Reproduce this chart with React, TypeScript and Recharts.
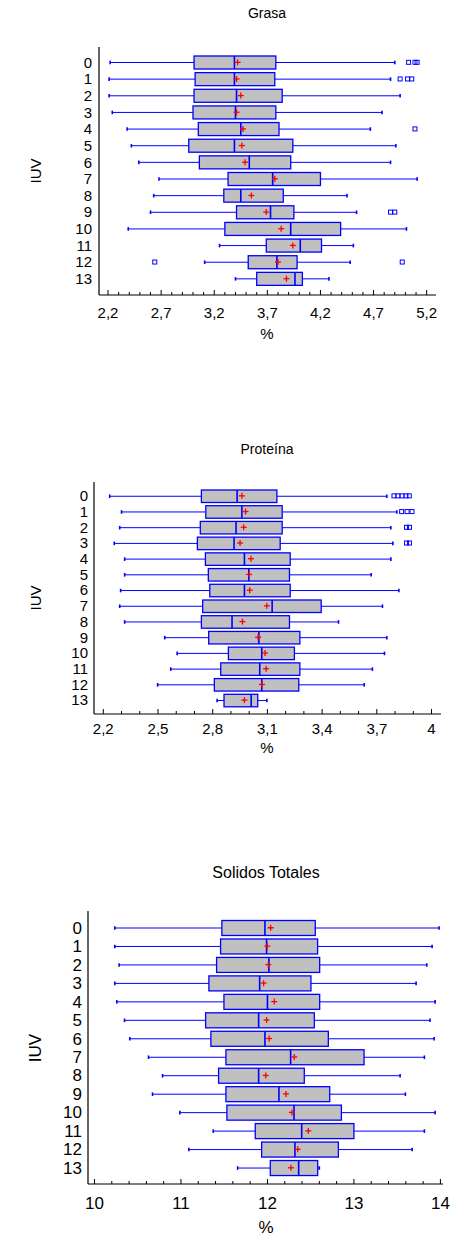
import { Bar, ComposedChart, Scatter, XAxis, YAxis } from 'recharts'

const FONT = '"Liberation Sans", Arial, sans-serif'
const BLUE = '#0000ff'

const iuv = ['0', '1', '2', '3', '4', '5', '6', '7', '8', '9', '10', '11', '12', '13']

// Grasa
const grasaLow = [2.22, 2.21, 2.21, 2.24, 2.38, 2.42, 2.49, 2.68, 2.63, 2.6, 2.39, 3.25, 3.11, 3.4]
const grasaQ1 = [3.01, 3.02, 3.01, 3.0, 3.05, 2.96, 3.06, 3.33, 3.29, 3.41, 3.3, 3.69, 3.52, 3.6]
const grasaMed = [3.39, 3.39, 3.41, 3.4, 3.45, 3.39, 3.53, 3.75, 3.45, 3.73, 3.92, 4.01, 3.79, 3.96]
const grasaQ3 = [3.78, 3.77, 3.84, 3.78, 3.81, 3.94, 3.92, 4.2, 3.85, 3.95, 4.39, 4.21, 3.98, 4.03]
const grasaHigh = [4.9, 4.86, 4.95, 4.78, 4.67, 4.91, 4.86, 5.11, 4.45, 4.54, 5.01, 4.51, 4.48, 4.28]
const grasaMean = [3.42, 3.41, 3.45, 3.41, 3.47, 3.46, 3.49, 3.77, 3.55, 3.69, 3.83, 3.94, 3.8, 3.88]
const grasaOut = [[5.03, 5.09, 5.11], [4.95, 5.02, 5.06], [], [], [5.09], [], [], [], [], [4.86, 4.9], [], [], [2.64, 4.97], []]
const grasaTicks = [2.2, 2.7, 3.2, 3.7, 4.2, 4.7, 5.2]
const grasaLabels = ['2,2', '2,7', '3,2', '3,7', '4,2', '4,7', '5,2']

// Proteína
const protLow = [2.235, 2.3, 2.29, 2.26, 2.317, 2.317, 2.295, 2.29, 2.317, 2.537, 2.605, 2.57, 2.498, 2.824]
const protQ1 = [2.738, 2.762, 2.732, 2.716, 2.76, 2.776, 2.784, 2.745, 2.738, 2.778, 2.886, 2.844, 2.809, 2.862]
const protMed = [2.934, 2.96, 2.928, 2.917, 2.974, 2.998, 2.974, 3.126, 2.906, 3.053, 3.069, 3.058, 3.069, 3.011]
const protQ3 = [3.152, 3.181, 3.181, 3.17, 3.225, 3.221, 3.225, 3.395, 3.221, 3.278, 3.248, 3.278, 3.272, 3.047]
const protHigh = [3.755, 3.81, 3.777, 3.788, 3.777, 3.669, 3.821, 3.731, 3.49, 3.755, 3.742, 3.676, 3.631, 3.097]
const protMean = [2.96, 2.98, 2.97, 2.95, 3.01, 3.0, 3.003, 3.097, 2.963, 3.049, 3.087, 3.093, 3.07, 2.974]
const protOut = [
  [3.794, 3.816, 3.838, 3.86, 3.878],
  [3.836, 3.866, 3.893],
  [3.863, 3.879],
  [3.863, 3.879],
  [], [], [], [], [], [], [], [], [], [],
]
const protTicks = [2.2, 2.5, 2.8, 3.1, 3.4, 3.7, 4.0]
const protLabels = ['2,2', '2,5', '2,8', '3,1', '3,4', '3,7', '4']

// Solidos Totales
const solLow = [10.235, 10.235, 10.285, 10.235, 10.258, 10.347, 10.409, 10.625, 10.787, 10.671, 10.987, 11.373, 11.091, 11.655]
const solQ1 = [11.473, 11.458, 11.412, 11.323, 11.497, 11.285, 11.346, 11.52, 11.435, 11.52, 11.531, 11.859, 11.933, 12.033]
const solMed = [11.971, 11.99, 12.017, 11.91, 12.0, 11.898, 11.971, 12.268, 11.898, 12.133, 12.307, 12.396, 12.318, 12.361]
const solQ3 = [12.553, 12.58, 12.604, 12.503, 12.604, 12.542, 12.704, 13.117, 12.426, 12.72, 12.855, 13.0, 12.82, 12.581]
const solHigh = [13.985, 13.904, 13.843, 13.719, 13.939, 13.88, 13.927, 13.815, 13.534, 13.595, 13.939, 13.815, 13.673, 12.6]
const solMean = [12.037, 11.998, 12.01, 11.956, 12.079, 11.99, 12.02, 12.31, 11.98, 12.214, 12.283, 12.473, 12.35, 12.272]
const solOut: number[][] = iuv.map(() => [])
const solTicks = [10, 11, 12, 13, 14]
const solLabels = ['10', '11', '12', '13', '14']

type Row = { name: string; low: number; q1: number; med: number; q3: number; high: number; mean: number; out: number[] }

function buildRows(low: number[], q1: number[], med: number[], q3: number[], high: number[], mean: number[], out: number[][]): Row[] {
  return iuv.map((name, i) => ({ name, low: low[i], q1: q1[i], med: med[i], q3: q3[i], high: high[i], mean: mean[i], out: out[i] }))
}

// minor ticks between the labelled ones
function subdivide(majors: number[], parts: number) {
  const out: number[] = []
  for (let i = 0; i < majors.length - 1; i++) {
    const step = (majors[i + 1] - majors[i]) / parts
    for (let j = 0; j < parts; j++) out.push(+(majors[i] + j * step).toFixed(4))
  }
  out.push(majors[majors.length - 1])
  return out
}

function BoxShape(props: any) {
  const { x, y, width, height, payload } = props
  if (!payload || !Number.isFinite(x) || !Number.isFinite(width)) return null
  const { low, q1, med, q3, high } = payload as Row
  const px = (v: number) => x + ((v - low) / (high - low)) * width
  const cy = y + height / 2
  const xLow = px(low)
  const xHigh = px(high)
  const xQ1 = px(q1)
  const xQ3 = px(q3)
  const xMed = px(med)
  return (
    <g>
      <line x1={xLow} x2={xQ1} y1={cy} y2={cy} stroke={BLUE} strokeWidth={1} />
      <line x1={xQ3} x2={xHigh} y1={cy} y2={cy} stroke={BLUE} strokeWidth={1} />
      <line x1={xLow} x2={xLow} y1={cy - 1.8} y2={cy + 1.8} stroke={BLUE} strokeWidth={1.6} />
      <line x1={xHigh} x2={xHigh} y1={cy - 1.8} y2={cy + 1.8} stroke={BLUE} strokeWidth={1.6} />
      <rect x={xQ1} y={y} width={xQ3 - xQ1} height={height} fill="#c0c0c0" stroke={BLUE} strokeWidth={1.3} />
      <line x1={xMed} x2={xMed} y1={y} y2={y + height} stroke={BLUE} strokeWidth={1.6} />
    </g>
  )
}

function MeanShape(props: any) {
  const { cx, cy } = props
  if (!Number.isFinite(cx) || !Number.isFinite(cy)) return null
  return (
    <g>
      <line x1={cx - 3} x2={cx + 3} y1={cy} y2={cy} stroke="#ff0000" strokeWidth={1.3} />
      <line x1={cx} x2={cx} y1={cy - 3} y2={cy + 3} stroke="#ff0000" strokeWidth={1.3} />
    </g>
  )
}

function OutlierShape(props: any) {
  const { cx, cy } = props
  if (!Number.isFinite(cx) || !Number.isFinite(cy)) return null
  return <rect x={cx - 2} y={cy - 2} width={4} height={4} fill="none" stroke={BLUE} strokeWidth={1} />
}

type ChartCfg = {
  rows: Row[]
  majors: number[]
  labels: string[]
  parts: number
  domain: [number, number]
  top: number
  plotTop: number
  plotBottom: number
  yWidth: number
  marginRight: number
  pad: { top: number; bottom: number }
  barSize: number
  fontSize: number
  labelOffset: number
  yTickMargin: number
}

function BoxChart({ cfg }: { cfg: ChartCfg }) {
  const ticks = subdivide(cfg.majors, cfg.parts)
  const isMajor = (v: number) => cfg.majors.findIndex((m) => Math.abs(m - v) < 1e-6)
  const maxOut = Math.max(...cfg.rows.map((r) => r.out.length))
  const height = cfg.plotBottom - cfg.top + 40

  const bottomTick = (p: any) => {
    const k = isMajor(p.payload.value)
    return (
      <g>
        <line x1={p.x} x2={p.x} y1={p.y} y2={p.y - (k >= 0 ? 5 : 3)} stroke="#000" strokeWidth={1} />
        {k >= 0 && (
          <text x={p.x} y={p.y + cfg.labelOffset} textAnchor="middle" fontSize={cfg.fontSize} fontFamily={FONT} fill="#000">
            {cfg.labels[k]}
          </text>
        )}
      </g>
    )
  }
  const topTick = (p: any) => {
    const k = isMajor(p.payload.value)
    return <line x1={p.x} x2={p.x} y1={p.y} y2={p.y + (k >= 0 ? 5 : 3)} stroke="#000" strokeWidth={1} />
  }

  return (
    <div style={{ position: 'absolute', left: 0, top: cfg.top }}>
      <ComposedChart
        layout="vertical"
        width={453}
        height={height}
        data={cfg.rows}
        margin={{ top: cfg.plotTop - cfg.top, right: cfg.marginRight, bottom: 0, left: 0 }}
      >
        <XAxis
          type="number"
          domain={cfg.domain}
          allowDataOverflow
          ticks={ticks}
          interval={0}
          tickSize={0}
          tickMargin={0}
          tickLine={false}
          tick={bottomTick}
          axisLine={{ stroke: '#000', strokeWidth: 1.2 }}
          height={40}
        />
        <XAxis
          xAxisId="top"
          orientation="top"
          type="number"
          domain={cfg.domain}
          allowDataOverflow
          ticks={ticks}
          interval={0}
          tickSize={0}
          tickMargin={0}
          tickLine={false}
          tick={topTick}
          axisLine={{ stroke: '#000', strokeWidth: 1.2 }}
          height={0}
        />
        <YAxis
          type="category"
          dataKey="name"
          width={cfg.yWidth}
          interval={0}
          tickLine={false}
          tickSize={0}
          tickMargin={cfg.yTickMargin}
          tick={{ fill: '#000', fontSize: cfg.fontSize, fontFamily: FONT }}
          axisLine={{ stroke: '#000', strokeWidth: 1.2 }}
          padding={cfg.pad}
        />
        <YAxis
          yAxisId="right"
          orientation="right"
          type="category"
          dataKey="name"
          width={0}
          tick={false}
          tickLine={false}
          axisLine={{ stroke: '#000', strokeWidth: 1.2 }}
          padding={cfg.pad}
        />
        <Bar dataKey={(d: Row) => [d.low, d.high]} barSize={cfg.barSize} shape={BoxShape} isAnimationActive={false} />
        <Scatter dataKey="mean" shape={MeanShape} isAnimationActive={false} />
        {Array.from({ length: maxOut }, (_, k) => (
          <Scatter key={k} dataKey={(d: Row) => d.out[k]} shape={OutlierShape} isAnimationActive={false} />
        ))}
      </ComposedChart>
    </div>
  )
}

const charts: { title: string; cx: number; titleY: number; pctY: number; cfg: ChartCfg }[] = [
  {
    title: 'Grasa',
    cx: 267,
    titleY: 13,
    pctY: 333,
    cfg: {
      rows: buildRows(grasaLow, grasaQ1, grasaMed, grasaQ3, grasaHigh, grasaMean, grasaOut),
      majors: grasaTicks,
      labels: grasaLabels,
      parts: 5,
      domain: [2.115, 5.288],
      top: 0,
      plotTop: 47,
      plotBottom: 295,
      yWidth: 99,
      marginRight: 17,
      pad: { top: 7, bottom: 8 },
      barSize: 13,
      fontSize: 15,
      labelOffset: 23,
      yTickMargin: 7,
    },
  },
  {
    title: 'Proteína',
    cx: 267,
    titleY: 449,
    pctY: 747,
    cfg: {
      rows: buildRows(protLow, protQ1, protMed, protQ3, protHigh, protMean, protOut),
      majors: protTicks,
      labels: protLabels,
      parts: 3,
      domain: [2.149, 4.052],
      top: 420,
      plotTop: 482,
      plotBottom: 714,
      yWidth: 94,
      marginRight: 12,
      pad: { top: 6, bottom: 6 },
      barSize: 12.5,
      fontSize: 15,
      labelOffset: 20,
      yTickMargin: 6,
    },
  },
  {
    title: 'Solidos Totales',
    cx: 266,
    titleY: 873,
    pctY: 1227,
    cfg: {
      rows: buildRows(solLow, solQ1, solMed, solQ3, solHigh, solMean, solOut),
      majors: solTicks,
      labels: solLabels,
      parts: 5,
      domain: [9.925, 14.03],
      top: 840,
      plotTop: 911,
      plotBottom: 1184,
      yWidth: 88,
      marginRight: 10,
      pad: { top: 7.5, bottom: 7 },
      barSize: 15,
      fontSize: 17,
      labelOffset: 25,
      yTickMargin: 6,
    },
  },
]

const textBase: React.CSSProperties = {
  position: 'absolute',
  fontFamily: FONT,
  color: '#000',
  whiteSpace: 'nowrap',
  lineHeight: 1,
}

export default function App() {
  return (
    <div style={{ position: 'absolute', left: 0, top: 0, width: 453, height: 1239, background: '#fff' }}>
      {charts.map((c) => {
        const midY = (c.cfg.plotTop + c.cfg.plotBottom) / 2
        return (
          <div key={c.title}>
            <BoxChart cfg={c.cfg} />
            <div style={{ ...textBase, left: c.cx, top: c.titleY, fontSize: c.cfg.fontSize - 1, transform: 'translate(-50%, -50%)' }}>
              {c.title}
            </div>
            <div style={{ ...textBase, left: 35, top: midY, fontSize: c.cfg.fontSize, transform: 'translate(-50%, -50%) rotate(-90deg)' }}>
              IUV
            </div>
            <div style={{ ...textBase, left: c.cx, top: c.pctY, fontSize: c.cfg.fontSize, transform: 'translate(-50%, -50%)' }}>
              %
            </div>
          </div>
        )
      })}
    </div>
  )
}
